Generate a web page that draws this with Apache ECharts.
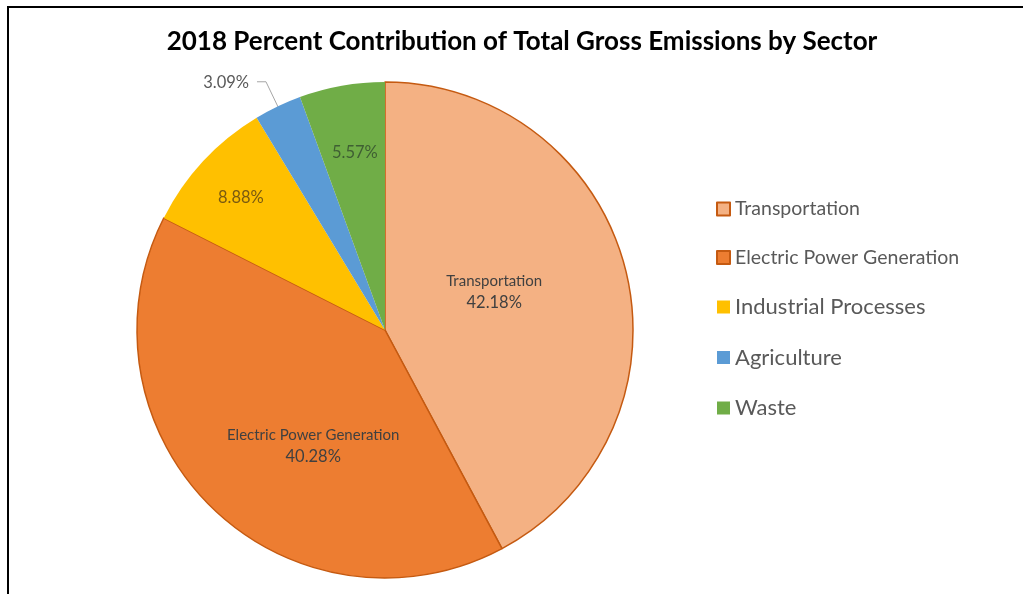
<!DOCTYPE html>
<html>
<head>
<meta charset="utf-8">
<script src="https://cdn.jsdelivr.net/npm/echarts@6/dist/echarts.min.js"></script>
<style>
  html, body { margin: 0; padding: 0; background: #ffffff; }
  #chart { position: absolute; left: 0; top: 0; width: 1023px; height: 594px; }
  #frame { position: absolute; left: 7px; top: 6px; width: 1030px; height: 600px;
           border-left: 2px solid #000; border-top: 2px solid #000; pointer-events: none; }
</style>
</head>
<body>
<div id="chart"></div>
<div id="frame"></div>
<script>
const titleText = '2018 Percent Contribution of Total Gross Emissions by Sector';
const categories = ['Transportation', 'Electric Power Generation', 'Industrial Processes', 'Agriculture', 'Waste'];
const values = [42.18, 40.28, 8.88, 3.09, 5.57];
const colors = ['#F4B183', '#ED7D31', '#FFC000', '#5B9BD5', '#70AD47'];

const FONT = 'Lato';
const CX = 385, CY = 330, R = 248;

// label styling per slice (layout, not data)
const labelStyles = [
  { showName: true,  color: '#404040', dx: -14, dy: -7 },
  { showName: true,  color: '#404040', dx: 17,  dy: 25 },
  { showName: false, color: '#7a5a10', dx: -51, dy: -46 },
  { showName: false, color: '#595959', outside: true },
  { showName: false, color: '#3f5f33', dx: -8,  dy: -52 }
];
const legendBigText = [false, false, true, true, true];
const borderedSlices = [true, true, false, false, false];

const total = values.reduce((a, b) => a + b, 0);
function midAngle(i) {
  let before = 0;
  for (let k = 0; k < i; k++) before += values[k];
  const frac = (before + values[i] / 2) / total;
  return (90 - frac * 360) * Math.PI / 180;
}

const data = categories.map((name, i) => {
  const ls = labelStyles[i];
  const pct = values[i].toFixed(2) + '%';
  return {
    name: name,
    value: values[i],
    itemStyle: borderedSlices[i]
      ? { color: colors[i], borderColor: '#C55A11', borderWidth: 1.5 }
      : { color: colors[i], borderWidth: 0 },
    label: {
      show: true,
      position: ls.outside ? 'outside' : 'inside',
      fontFamily: FONT,
      color: ls.color,
      formatter: (ls.showName ? '{n|' + name + '}\n' : '') + '{p|' + pct + '}',
      rich: {
        n: { fontFamily: FONT, fontSize: 15, color: ls.color, lineHeight: 21 },
        p: { fontFamily: FONT, fontSize: 16.5, color: ls.color, lineHeight: 21 }
      }
    },
    labelLine: ls.outside
      ? { show: true, lineStyle: { color: '#A6A6A6', width: 1 } }
      : { show: false }
  };
});

const chart = echarts.init(document.getElementById('chart'), null, { renderer: 'canvas' });
chart.setOption({
  backgroundColor: '#ffffff',
  animation: false,
  title: {
    text: titleText,
    left: 522,
    top: 29,
    textAlign: 'center',
    padding: 0,
    textStyle: { fontFamily: FONT, fontWeight: 'bold', fontSize: 26, color: '#000000' }
  },
  legend: {
    orient: 'vertical',
    left: 716,
    top: 199,
    itemWidth: 13,
    itemHeight: 13,
    itemGap: 28.5,
    padding: 0,
    icon: 'rect',
    data: categories,
    formatter: function (name) {
      const i = categories.indexOf(name);
      return (legendBigText[i] ? '{b|' : '{s|') + name + '}';
    },
    textStyle: {
      fontFamily: FONT, color: '#595959', lineHeight: 20,
      rich: {
        s: { fontFamily: FONT, fontSize: 19.5, color: '#595959', lineHeight: 20, height: 20 },
        b: { fontFamily: FONT, fontSize: 22, color: '#595959', lineHeight: 20, height: 20 }
      }
    }
  },
  series: [{
    type: 'pie',
    center: [CX, CY],
    radius: R,
    startAngle: 90,
    clockwise: true,
    avoidLabelOverlap: false,
    data: data,
    emphasis: { disabled: true },
    labelLayout: function (params) {
      const i = params.dataIndex;
      const ls = labelStyles[i];
      if (ls.outside) {
        const a = midAngle(i);
        const ux = Math.cos(a), uy = -Math.sin(a);
        const inner = [CX + ux * R * 0.48, CY + uy * R * 0.48];
        const outer = [CX + ux * R * 1.11, CY + uy * R * 1.11];
        const end = [outer[0] - 9, outer[1]];
        return {
          x: end[0] - 8,
          y: end[1] + 1,
          align: 'right',
          verticalAlign: 'middle',
          labelLinePoints: [inner, outer, end]
        };
      }
      return { dx: ls.dx, dy: ls.dy };
    }
  }]
});
</script>
</body>
</html>
